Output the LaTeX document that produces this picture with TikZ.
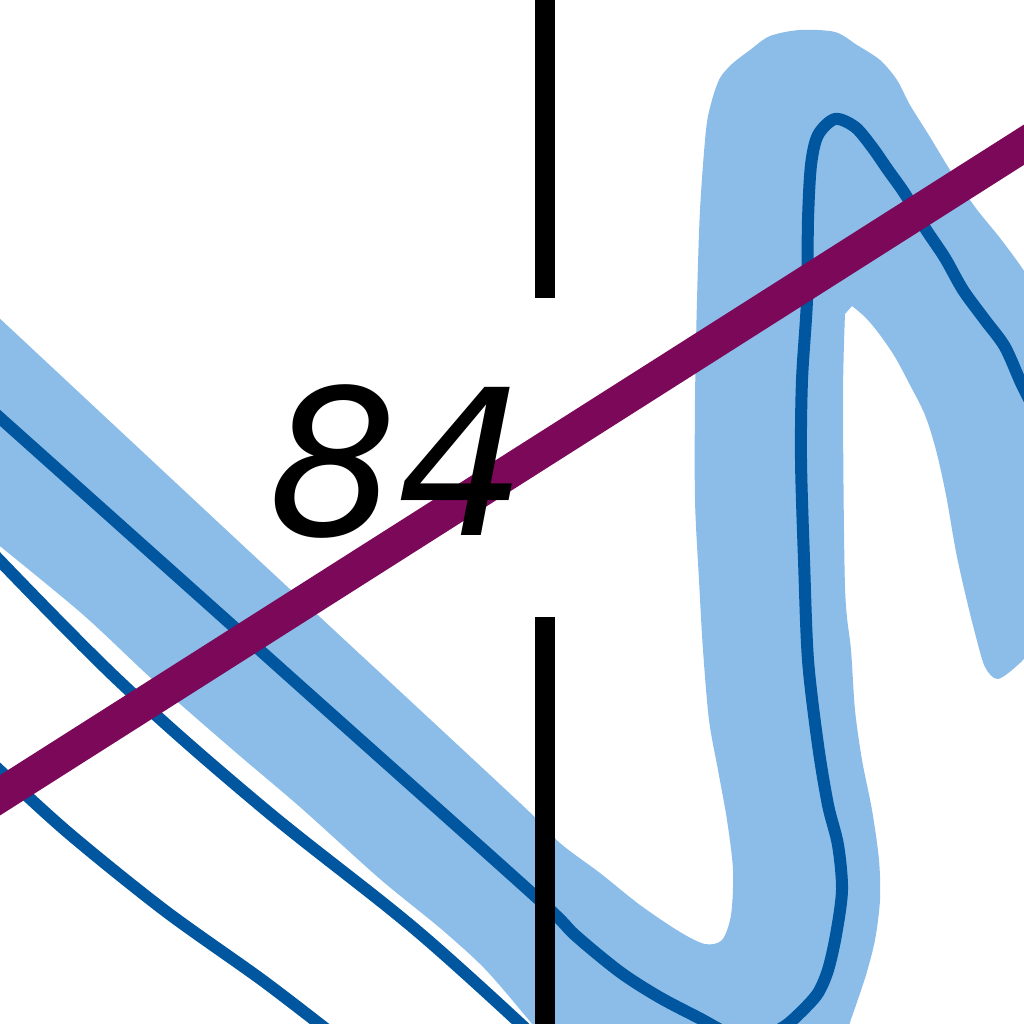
\documentclass[tikz,border=0pt]{standalone}
\usepackage{fontspec}
\usepackage{tikz}
\newfontfamily\chartfont{DejaVu Sans}
\definecolor{ShallowBlue}{HTML}{8BBDE8}
\definecolor{ContourBlue}{HTML}{00569F}
\definecolor{RouteMagenta}{HTML}{7B0859}

\begin{document}
\begin{tikzpicture}[x=0.01cm, y=-0.01cm,
    shallow/.style={fill=ShallowBlue},
    contour/.style={draw=ContourBlue, line width=0.12cm, line join=round},
    route/.style={draw=RouteMagenta, line width=0.34cm},
    gridline/.style={draw=black, line width=0.2cm}]
        \useasboundingbox (0,0) rectangle (1024,1024);
        \clip (0,0) rectangle (1024,1024);
        % Shallow water band
        \fill[shallow] plot[smooth, tension=0.5] coordinates {(-20,300) (250,552) (520,803) (560,843) (600,873) (640,905) (680,932) (705,944) (722,940) (731,915) (733,870) (727,820) (718,770) (709,720) (703,650) (699,580) (695,500) (695,400) (697,300) (700,210) (706,130) (712,100) (720,78) (732,64) (750,50) (770,36) (800,30) (835,32) (857,45) (880,60) (897,80) (910,105) (930,137) (950,170) (975,207) (1000,238) (1020,265) (1040,295)}
            -- (1060,295) -- (1060,640)
            -- plot[smooth, tension=0.5] coordinates {(1035,645) (1020,663) (998,679) (985,667) (976,637) (966,597) (956,552) (946,495) (936,450) (925,415) (910,385) (895,357) (880,335) (866,318) (852,306)}
            -- plot[smooth, tension=0.5] coordinates {(845,314) (843,400) (845,587) (851,650) (855,710) (862,760) (872,810) (879,860) (880,900) (875,940) (866,975) (856,1005) (848,1030) (845,1060)}
            -- (545,1060)
            -- plot[smooth, tension=0.5] coordinates {(545,1040) (528,1019) (485,969) (440,928) (380,879) (300,807) (233,750) (153,680) (80,612) (-20,530)}
            -- cycle;
        % Depth contours
        \draw[contour] plot[smooth, tension=0.5] coordinates {(-20,400) (300,686) (535,896) (575,935) (620,972) (659,997) (699,1018) (730,1034) (760,1038) (785,1026) (803,1010) (818,993) (828,970) (836,935) (842,890) (838,845) (828,805) (818,745) (808,660) (804,560) (801,460) (802,380) (807,300) (808,220) (811,165) (818,135) (835,119) (855,127) (872,147) (888,170) (905,194) (925,228) (945,258) (963,290) (985,320) (1005,347) (1022,385) (1040,420)};
        \draw[contour] plot[smooth, tension=0.6] coordinates {(-20,540) (118,680) (262,807) (416,930) (540,1042)};
        \draw[contour] plot[smooth, tension=0.5] coordinates {(-20,752) (65,830) (164,910) (262,980) (335,1036)};
        % Route
        \draw[route] (-20,808) -- (1044,132);
        % Grid line, broken round the sounding
        \coordinate (gtop) at (545,-10);
        \coordinate (gup) at (545,298);
        \coordinate (gdown) at (545,617);
        \coordinate (gbot) at (545,1034);
        \draw[gridline] (gtop) -- (gup);
        \draw[gridline] (gdown) -- (gbot);
        \node[font=\chartfont\itshape\fontsize{57.8}{60}\selectfont, inner sep=0pt] (sounding) at (398,462) {84};
    \end{tikzpicture}
\end{document}
